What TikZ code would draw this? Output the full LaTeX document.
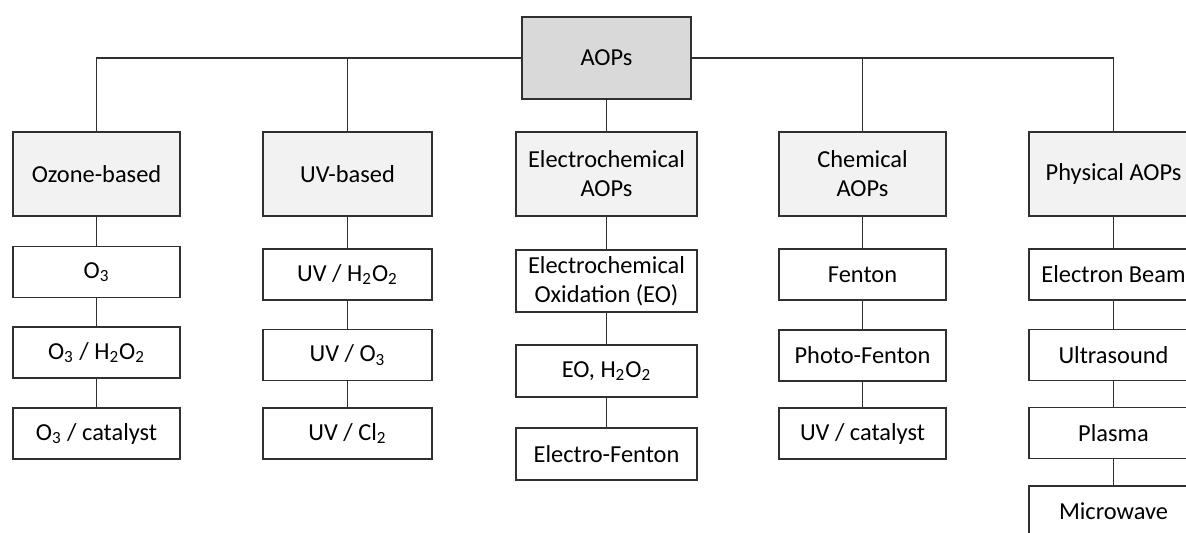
\documentclass[tikz,border=0pt]{standalone}
\usepackage{fontspec}
\setmainfont{Carlito}
\definecolor{topfill}{HTML}{D9D9D9}
\definecolor{catfill}{HTML}{F2F2F2}
\definecolor{linec}{HTML}{303030}
\begin{document}
\begin{tikzpicture}[x=0.5pt,y=-0.5pt,
  base/.style={draw=linec, line width=0.75pt, inner sep=1pt, align=center,
    font=\fontsize{12.2}{14.4}\selectfont},
  topbox/.style={base, fill=topfill, minimum width=84.5pt, minimum height=41pt},
  catbox/.style={base, fill=catfill, minimum height=42pt},
  itembox/.style={base, fill=white, minimum height=25.5pt},
  wA/.style={minimum width=83.5pt},
  wB/.style={minimum width=84.5pt},
  wC/.style={minimum width=90.5pt},
  link/.style={draw=linec, line width=0.75pt}
]
\useasboundingbox (0,0) rectangle (1186,532);
\clip (0,0) rectangle (1186,532);

% top
\node[topbox] (aops) at (606.5,58) {AOPs};

% categories
\node[catbox,wA] (oz) at (96.5,174) {Ozone-based};
\node[catbox,wB] (uv) at (347.5,174) {UV-based};
\node[catbox,wC] (el) at (606.5,174) {Electrochemical\\AOPs};
\node[catbox,wA] (ch) at (862.5,174) {Chemical\\AOPs};
\node[catbox,wB] (ph) at (1113.5,174) {Physical AOPs};

% ozone column
\node[itembox,wA] (oz1) at (96.5,272) {O\textsubscript{3}};
\node[itembox,wA] (oz2) at (96.5,352.5) {O\textsubscript{3} / H\textsubscript{2}O\textsubscript{2}};
\node[itembox,wA] (oz3) at (96.5,433.5) {O\textsubscript{3} / catalyst};

% UV column
\node[itembox,wB] (uv1) at (347.5,274.5) {UV / H\textsubscript{2}O\textsubscript{2}};
\node[itembox,wB] (uv2) at (347.5,355) {UV / O\textsubscript{3}};
\node[itembox,wB] (uv3) at (347.5,433.5) {UV / Cl\textsubscript{2}};

% electrochemical column
\node[itembox,wC,minimum height=31pt] (el1) at (606.5,281) {Electrochemical\\Oxidation (EO)};
\node[itembox,wC,minimum height=26pt] (el2) at (606.5,371) {EO, H\textsubscript{2}O\textsubscript{2}};
\node[itembox,wC,minimum height=26pt] (el3) at (606.5,454) {Electro-Fenton};

% chemical column
\node[itembox,wA] (ch1) at (862.5,274.5) {Fenton};
\node[itembox,wA] (ch2) at (862.5,355.5) {Photo-Fenton};
\node[itembox,wA] (ch3) at (862.5,433.5) {UV / catalyst};

% physical column
\node[itembox,wB] (ph1) at (1113.5,274.5) {Electron Beam};
\node[itembox,wB] (ph2) at (1113.5,355) {Ultrasound};
\node[itembox,wB] (ph3) at (1113.5,433) {Plasma};
\node[itembox,wB] (ph4) at (1113.5,511.5) {Microwave};

% top connectors
\draw[link] (aops.west) -| (oz.north);
\draw[link] (aops.east) -| (ph.north);
\draw[link] (uv.north) -- (uv.north |- aops.west);
\draw[link] (ch.north) -- (ch.north |- aops.east);
\draw[link] (aops.south) -- (el.north);

% column connectors
\draw[link] (oz.south) -- (oz1.north) (oz1.south) -- (oz2.north) (oz2.south) -- (oz3.north);
\draw[link] (uv.south) -- (uv1.north) (uv1.south) -- (uv2.north) (uv2.south) -- (uv3.north);
\draw[link] (el.south) -- (el1.north) (el1.south) -- (el2.north) (el2.south) -- (el3.north);
\draw[link] (ch.south) -- (ch1.north) (ch1.south) -- (ch2.north) (ch2.south) -- (ch3.north);
\draw[link] (ph.south) -- (ph1.north) (ph1.south) -- (ph2.north) (ph2.south) -- (ph3.north) (ph3.south) -- (ph4.north);
\end{tikzpicture}
\end{document}
